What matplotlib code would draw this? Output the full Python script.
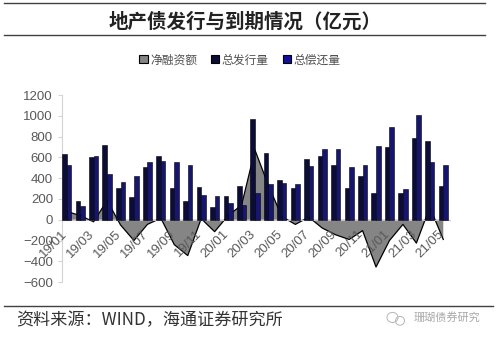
import matplotlib.pyplot as plt
import numpy as np
from matplotlib.patches import Patch, Ellipse
from matplotlib.lines import Line2D

plt.rcParams['font.family'] = ['Liberation Sans', 'Noto Sans CJK SC', 'DejaVu Sans']

months = ['19/01', '19/02', '19/03', '19/04', '19/05', '19/06', '19/07', '19/08',
          '19/09', '19/10', '19/11', '19/12', '20/01', '20/02', '20/03', '20/04',
          '20/05', '20/06', '20/07', '20/08', '20/09', '20/10', '20/11', '20/12',
          '21/01', '21/02', '21/03', '21/04', '21/05']

# 总发行量 / 总偿还量 / 净融资额 (亿元)
issue = [635, 178, 600, 723, 305, 220, 512, 616, 308, 185, 318, 123, 230, 327, 966,
         641, 379, 308, 583, 609, 522, 308, 424, 256, 703, 262, 784, 758, 324]
repay = [528, 133, 609, 441, 360, 421, 554, 567, 557, 522, 240, 230, 165, 140, 262,
         340, 356, 343, 518, 680, 680, 505, 522, 710, 888, 292, 1004, 554, 522]
net = [80, 40, -20, 185, -50, -200, -45, 15, -240, -345, 10, -115, 40, 140, 670,
       330, 30, -45, 25, -80, -145, -190, -105, -455, -200, -45, -225, 120, -190]

c_net = '#858585'
c_issue = '#0c0c38'
c_repay = '#161670'

fig = plt.figure(figsize=(5, 3.37), dpi=100)
ax = fig.add_axes([0.124, 0.163, 0.776, 0.555])

x = np.arange(len(months))
ax.fill_between(x, net, 0, facecolor=c_net, edgecolor='none', zorder=1)
ax.plot(x, net, color='black', lw=0.9, zorder=2)
ax.bar(x - 0.17, issue, width=0.34, color=c_issue, edgecolor='black', lw=0.4, zorder=3)
ax.bar(x + 0.17, repay, width=0.34, color=c_repay, edgecolor='black', lw=0.4, zorder=3)

ax.set_xlim(-0.35, 28.5)
ax.set_ylim(-600, 1200)
ax.set_yticks(np.arange(-600, 1201, 200))

for s in ['top', 'right']:
    ax.spines[s].set_visible(False)
ax.spines['left'].set_color('#d4d4d4')
ax.spines['bottom'].set_position(('data', 0))
ax.spines['bottom'].set_color('#c8c8c8')
ax.spines['bottom'].set_zorder(2.5)
ax.tick_params(axis='y', colors='#d4d4d4', labelcolor='#595959', labelsize=9.5, length=3)
ax.set_xticks([])

# month labels hang just under the zero line, every other month
for i in range(0, len(months), 2):
    ax.annotate(months[i], (i, 0), xytext=(-1, -9), textcoords='offset points',
                rotation=45, ha='right', va='center', rotation_mode='anchor',
                fontsize=9.5, color='#595959', zorder=5)

handles = [Patch(facecolor=c_net, edgecolor='black', lw=0.8),
           Patch(facecolor=c_issue, edgecolor='black', lw=0.8),
           Patch(facecolor='#1010a0', edgecolor='black', lw=0.8)]
fig.legend(handles, ['净融资额', '总发行量', '总偿还量'], loc='center',
           bbox_to_anchor=(0.48, 0.822), ncol=3, frameon=False,
           prop={'family': ['Noto Sans CJK SC'], 'size': 8.5},
           labelcolor='#505050', handlelength=0.7, handleheight=0.7,
           handletextpad=0.2, columnspacing=1.2)

fig.text(0.49, 0.935, '地产债发行与到期情况（亿元）', ha='center', va='center',
         fontsize=14, fontweight='bold', color='#222222', family=['Noto Sans CJK SC'])

for y, x1 in [(0.991, 0.97), (0.896, 0.97), (0.092, 0.986)]:
    fig.add_artist(Line2D([0.008, x1], [y, y], color='#404040', lw=1))

fig.text(0.032, 0.05, '资料来源：WIND，海通证券研究所', ha='left', va='center',
         fontsize=12.3, color='#333333', family=['Noto Sans CJK SC'])

# watermark
fig.add_artist(Ellipse((0.785, 0.058), 0.022, 0.03, fill=False, ec='#b5b5b5', lw=0.7))
fig.add_artist(Ellipse((0.800, 0.048), 0.018, 0.026, fill=False, ec='#b5b5b5', lw=0.7))
fig.text(0.895, 0.055, '珊瑚债券研究', ha='center', va='center', fontsize=8,
         color='#a8a8a8', family=['Noto Sans CJK SC'])

fig.savefig('out.png', dpi=100)
